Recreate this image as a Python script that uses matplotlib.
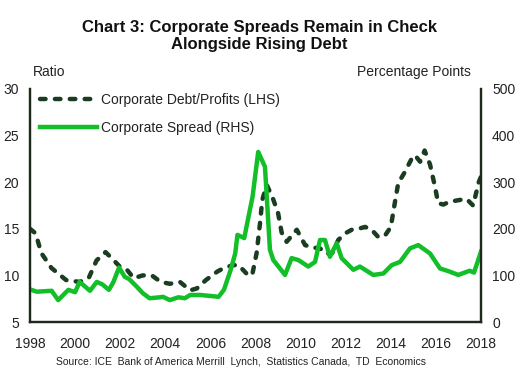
import matplotlib
matplotlib.use("Agg")
import matplotlib.pyplot as plt

plt.rcParams['font.family'] = ['Liberation Sans', 'DejaVu Sans']

debt_years = [1998.0, 1998.25, 1998.5, 1998.95, 1999.6, 2000.2, 2000.6, 2000.95, 2001.35, 2001.6,
              2002.0, 2002.3, 2002.6, 2003.0, 2003.4, 2003.8, 2004.2, 2004.65, 2005.1, 2005.4,
              2005.8, 2006.3, 2006.6, 2007.0, 2007.25, 2007.6, 2007.85, 2008.05, 2008.2, 2008.3,
              2008.5, 2008.75, 2009.0, 2009.16, 2009.38, 2009.83, 2010.2, 2010.5, 2010.86, 2011.16,
              2011.4, 2011.67, 2011.97, 2012.27, 2012.56, 2012.86, 2013.15, 2013.45, 2013.75, 2014.0,
              2014.2, 2014.33, 2014.6, 2014.9, 2015.07, 2015.3, 2015.5, 2015.74, 2015.96, 2016.1,
              2016.33, 2016.6, 2017.07, 2017.36, 2017.65, 2017.9, 2018.0]
debt_ratio = [15.0, 14.5, 12.4, 10.8, 9.5, 9.3, 9.7, 11.6, 12.5, 11.9,
              10.9, 10.6, 9.7, 10.0, 10.0, 9.3, 9.1, 9.3, 8.4, 8.6,
              9.5, 10.4, 10.8, 11.1, 11.1, 10.2, 10.0, 12.4, 15.6, 18.1,
              19.7, 18.4, 16.7, 14.6, 13.6, 14.9, 13.25, 13.0, 12.9, 12.3,
              12.4, 13.8, 14.5, 14.9, 15.0, 15.2, 14.9, 14.1, 14.3, 15.2,
              18.1, 19.9, 21.0, 22.4, 22.9, 22.2, 23.4, 21.9, 19.5, 17.75,
              17.6, 17.9, 18.1, 18.2, 17.5, 20.0, 20.6]

spread_years = [1998.0, 1998.3, 1998.96, 1999.25, 1999.7, 2000.0, 2000.2, 2000.66, 2000.96, 2001.2,
                2001.5, 2001.7, 2001.95, 2002.2, 2002.4, 2002.73, 2003.0, 2003.3, 2003.76, 2003.9,
                2004.2, 2004.58, 2004.87, 2005.1, 2005.54, 2005.98, 2006.36, 2006.6, 2006.9, 2007.1,
                2007.2, 2007.5, 2007.87, 2008.12, 2008.42, 2008.64, 2008.79, 2009.31, 2009.6, 2009.9,
                2010.34, 2010.64, 2010.86, 2011.08, 2011.3, 2011.6, 2011.82, 2012.34, 2012.63, 2013.22,
                2013.67, 2014.04, 2014.41, 2014.85, 2015.22, 2015.74, 2016.18, 2016.62, 2016.99, 2017.5,
                2017.69, 2018.0]
spread_pp = [70, 65, 67, 47, 69, 64, 86, 67, 86, 81,
             69, 86, 117, 97, 92, 76, 62, 51, 53, 54,
             47, 53, 51, 58, 58, 56, 54, 69, 112, 147,
             187, 180, 269, 365, 333, 155, 133, 101, 137, 133,
             119, 129, 176, 176, 140, 169, 137, 112, 119, 101,
             104, 122, 129, 158, 165, 147, 115, 108, 101, 110,
             106, 151]

x_ticks = list(range(1998, 2019, 2))
left_ticks = [5, 10, 15, 20, 25, 30]
right_ticks = [0, 100, 200, 300, 400, 500]

title = "Chart 3: Corporate Spreads Remain in Check\nAlongside Rising Debt"
label_debt = "Corporate Debt/Profits (LHS)"
label_spread = "Corporate Spread (RHS)"
source = "Source: ICE  Bank of America Merrill  Lynch,  Statistics Canada,  TD  Economics"

dark = "#1a3d22"
green = "#12bf28"
spine_c = "#1c2a17"

fig = plt.figure(figsize=(5.18, 3.85), dpi=100)
ax = fig.add_axes([30/518, 63/385, 451/518, 233/385])
ax2 = ax.twinx()

l1, = ax.plot(debt_years, debt_ratio, color=dark, lw=3.2, dashes=(1.25, 2.1),
              dash_capstyle='round', solid_joinstyle='round')
l2, = ax2.plot(spread_years, spread_pp, color=green, lw=3.2, solid_joinstyle='round')

ax.set_xlim(1998, 2018)
ax.set_ylim(5, 30)
ax2.set_ylim(0, 500)
ax.set_xticks(x_ticks)
ax.set_yticks(left_ticks)
ax2.set_yticks(right_ticks)

for a in (ax, ax2):
    a.spines['top'].set_visible(False)
    for s in ('left', 'right', 'bottom'):
        a.spines[s].set_color(spine_c)
        a.spines[s].set_linewidth(1.6)
    a.tick_params(length=0, labelsize=10, colors='#222222')
ax.tick_params(axis='y', pad=8)
ax2.tick_params(axis='y', pad=8)
ax.tick_params(axis='x', pad=11)

fig.text(0.5, 1 - 36/385, title, ha='center', va='center', fontsize=12,
         fontweight='bold', color='#111111', linespacing=1.2)
fig.text(33/518, 1 - 72/385, "Ratio", ha='left', va='center', fontsize=10, color='#222222')
fig.text(471/518, 1 - 72/385, "Percentage Points", ha='right', va='center', fontsize=10, color='#222222')
fig.text(241/518, 1 - 362/385, source, ha='center', va='center', fontsize=7.5, color='#222222')

leg = ax.legend([l1, l2], [label_debt, label_spread], loc='upper left',
                bbox_to_anchor=(0.0, 1.025), frameon=False, fontsize=10,
                handlelength=4.1, handletextpad=0.3, labelspacing=1.0,
                borderaxespad=0.3)
for t in leg.get_texts():
    t.set_color('#222222')

fig.savefig("out.png", dpi=100)
